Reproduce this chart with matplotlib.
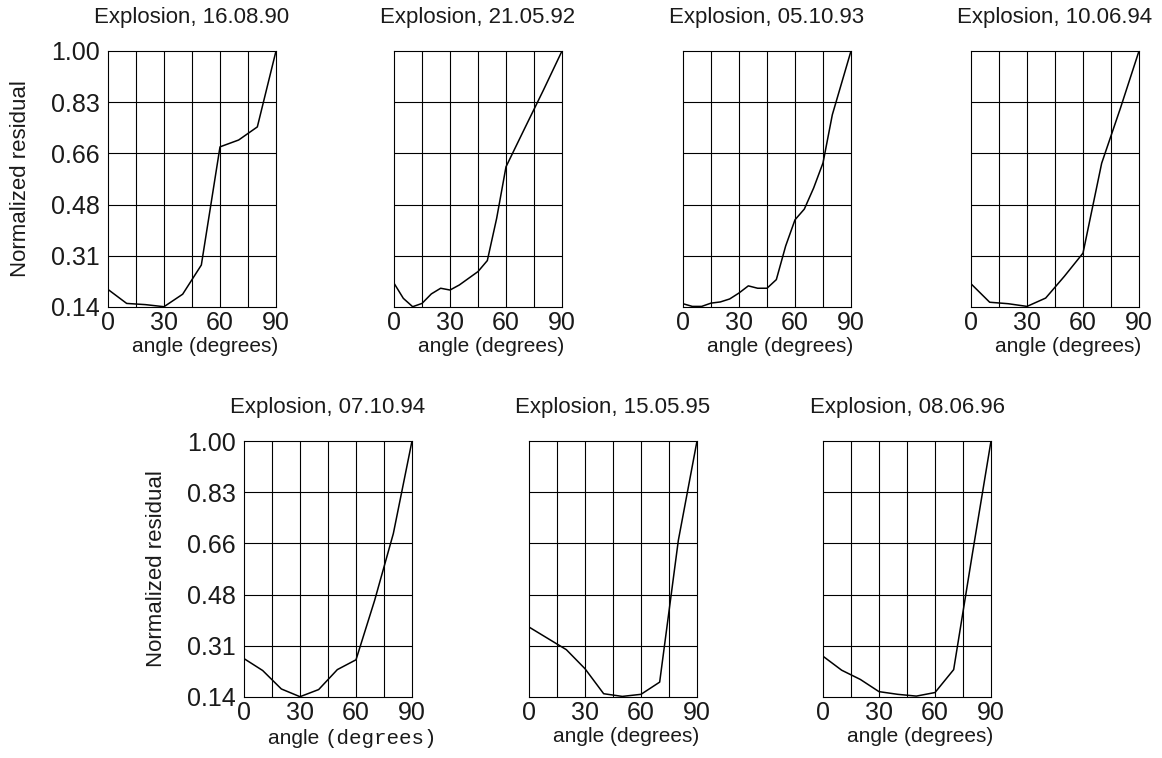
import matplotlib
matplotlib.use("Agg")
import matplotlib.pyplot as plt

plt.rcParams['font.family'] = ['Liberation Sans', 'DejaVu Sans']

# ---- data ----
titles = ['Explosion, 16.08.90', 'Explosion, 21.05.92', 'Explosion, 05.10.93',
          'Explosion, 10.06.94', 'Explosion, 07.10.94', 'Explosion, 15.05.95',
          'Explosion, 08.06.96']

ang_a = [0, 10, 20, 30, 40, 50, 60, 70, 80, 90]
res_a = [0.199, 0.152, 0.148, 0.141, 0.183, 0.281, 0.678, 0.701, 0.745, 1.00]

ang_b = [0, 5, 10, 15, 20, 25, 30, 35, 45, 50, 55, 60, 70, 80, 90]
res_b = [0.220, 0.169, 0.141, 0.152, 0.184, 0.203, 0.197, 0.214, 0.259, 0.296,
         0.438, 0.611, 0.740, 0.868, 1.00]

ang_c = [0, 5, 10, 15, 20, 25, 30, 35, 40, 45, 50, 55, 60, 65, 70, 75, 80, 90]
res_c = [0.151, 0.142, 0.142, 0.153, 0.157, 0.167, 0.187, 0.211, 0.203, 0.203,
         0.232, 0.345, 0.433, 0.469, 0.540, 0.624, 0.786, 1.00]

ang_d = [0, 10, 20, 30, 40, 50, 60, 70, 80, 90]
res_d = [0.218, 0.156, 0.151, 0.142, 0.170, 0.243, 0.321, 0.623, 0.807, 1.00]

ang_e = [0, 10, 20, 30, 40, 50, 60, 70, 80, 90]
res_e = [0.269, 0.229, 0.167, 0.141, 0.165, 0.232, 0.265, 0.465, 0.689, 1.00]

ang_f = [0, 10, 20, 30, 40, 50, 60, 70, 80, 90]
res_f = [0.375, 0.337, 0.299, 0.235, 0.151, 0.142, 0.149, 0.190, 0.666, 1.00]

ang_g = [0, 10, 20, 30, 40, 50, 60, 70, 80, 90]
res_g = [0.277, 0.230, 0.199, 0.158, 0.149, 0.143, 0.155, 0.232, 0.620, 1.00]

x_ticks = [0, 30, 60, 90]
y_ticks = [0.14, 0.312, 0.484, 0.656, 0.828, 1.00]
y_labels = ['0.14', '0.31', '0.48', '0.66', '0.83', '1.00']

series = [(ang_a, res_a), (ang_b, res_b), (ang_c, res_c), (ang_d, res_d),
          (ang_e, res_e), (ang_f, res_f), (ang_g, res_g)]

# panel boxes in pixels: left, top (figure is 1162 x 758)
W, H = 1162, 758
pw, ph = 168, 256
boxes = [(108, 51), (394, 51), (683, 51), (971, 51),
         (244, 441), (529, 441), (823, 441)]
with_ylabels = [True, False, False, False, True, False, False]
ink = '#1a1a1a'

fig = plt.figure(figsize=(11.62, 7.58), dpi=100)

for i, ((x, y), (lx, ty)) in enumerate(zip(series, boxes)):
    ax = fig.add_axes([lx / W, (H - ty - ph) / H, pw / W, ph / H])
    ax.plot(x, y, color='black', lw=1.1, zorder=3)
    ax.set_xlim(0, 90)
    ax.set_ylim(0.14, 1.0)

    # grid: 15-degree columns, five rows
    for gx in range(15, 90, 15):
        ax.axvline(gx, color='black', lw=0.8, zorder=1)
    for gy in y_ticks[1:-1]:
        ax.axhline(gy, color='black', lw=0.8, zorder=1)
    for s in ax.spines.values():
        s.set_linewidth(0.8)

    ax.set_xticks(x_ticks)
    ax.set_xticklabels([str(t) for t in x_ticks])
    ax.tick_params(axis='x', length=0, pad=3, labelsize=18, labelcolor=ink)
    if with_ylabels[i]:
        ax.set_yticks(y_ticks)
        ax.set_yticklabels(y_labels)
        ax.tick_params(axis='y', length=0, pad=6, labelsize=18, labelcolor=ink)
        ax.text(-87 / pw, 0.5, 'Normalized residual', transform=ax.transAxes,
                rotation=90, ha='center', va='center', fontsize=16, color=ink)
    else:
        ax.set_yticks([])

    ax.text(0.5, 1 + 34 / ph, titles[i], transform=ax.transAxes,
            ha='center', va='center', fontsize=16, color=ink)

    if i == 4:
        # this panel's label has "(degrees)" set in a typewriter face
        t = ax.text(0.142, -42 / ph, 'angle ', transform=ax.transAxes,
                    ha='left', va='center', fontsize=15, color=ink)
        ax.annotate('(degrees)', xy=(1, 0.5), xycoords=t, ha='left',
                    va='center', fontsize=15, family='Liberation Mono', color=ink)
    else:
        ax.text(0.58, -40 / ph, 'angle (degrees)', transform=ax.transAxes,
                ha='center', va='center', fontsize=15, color=ink)

fig.savefig('out.png', dpi=100)
